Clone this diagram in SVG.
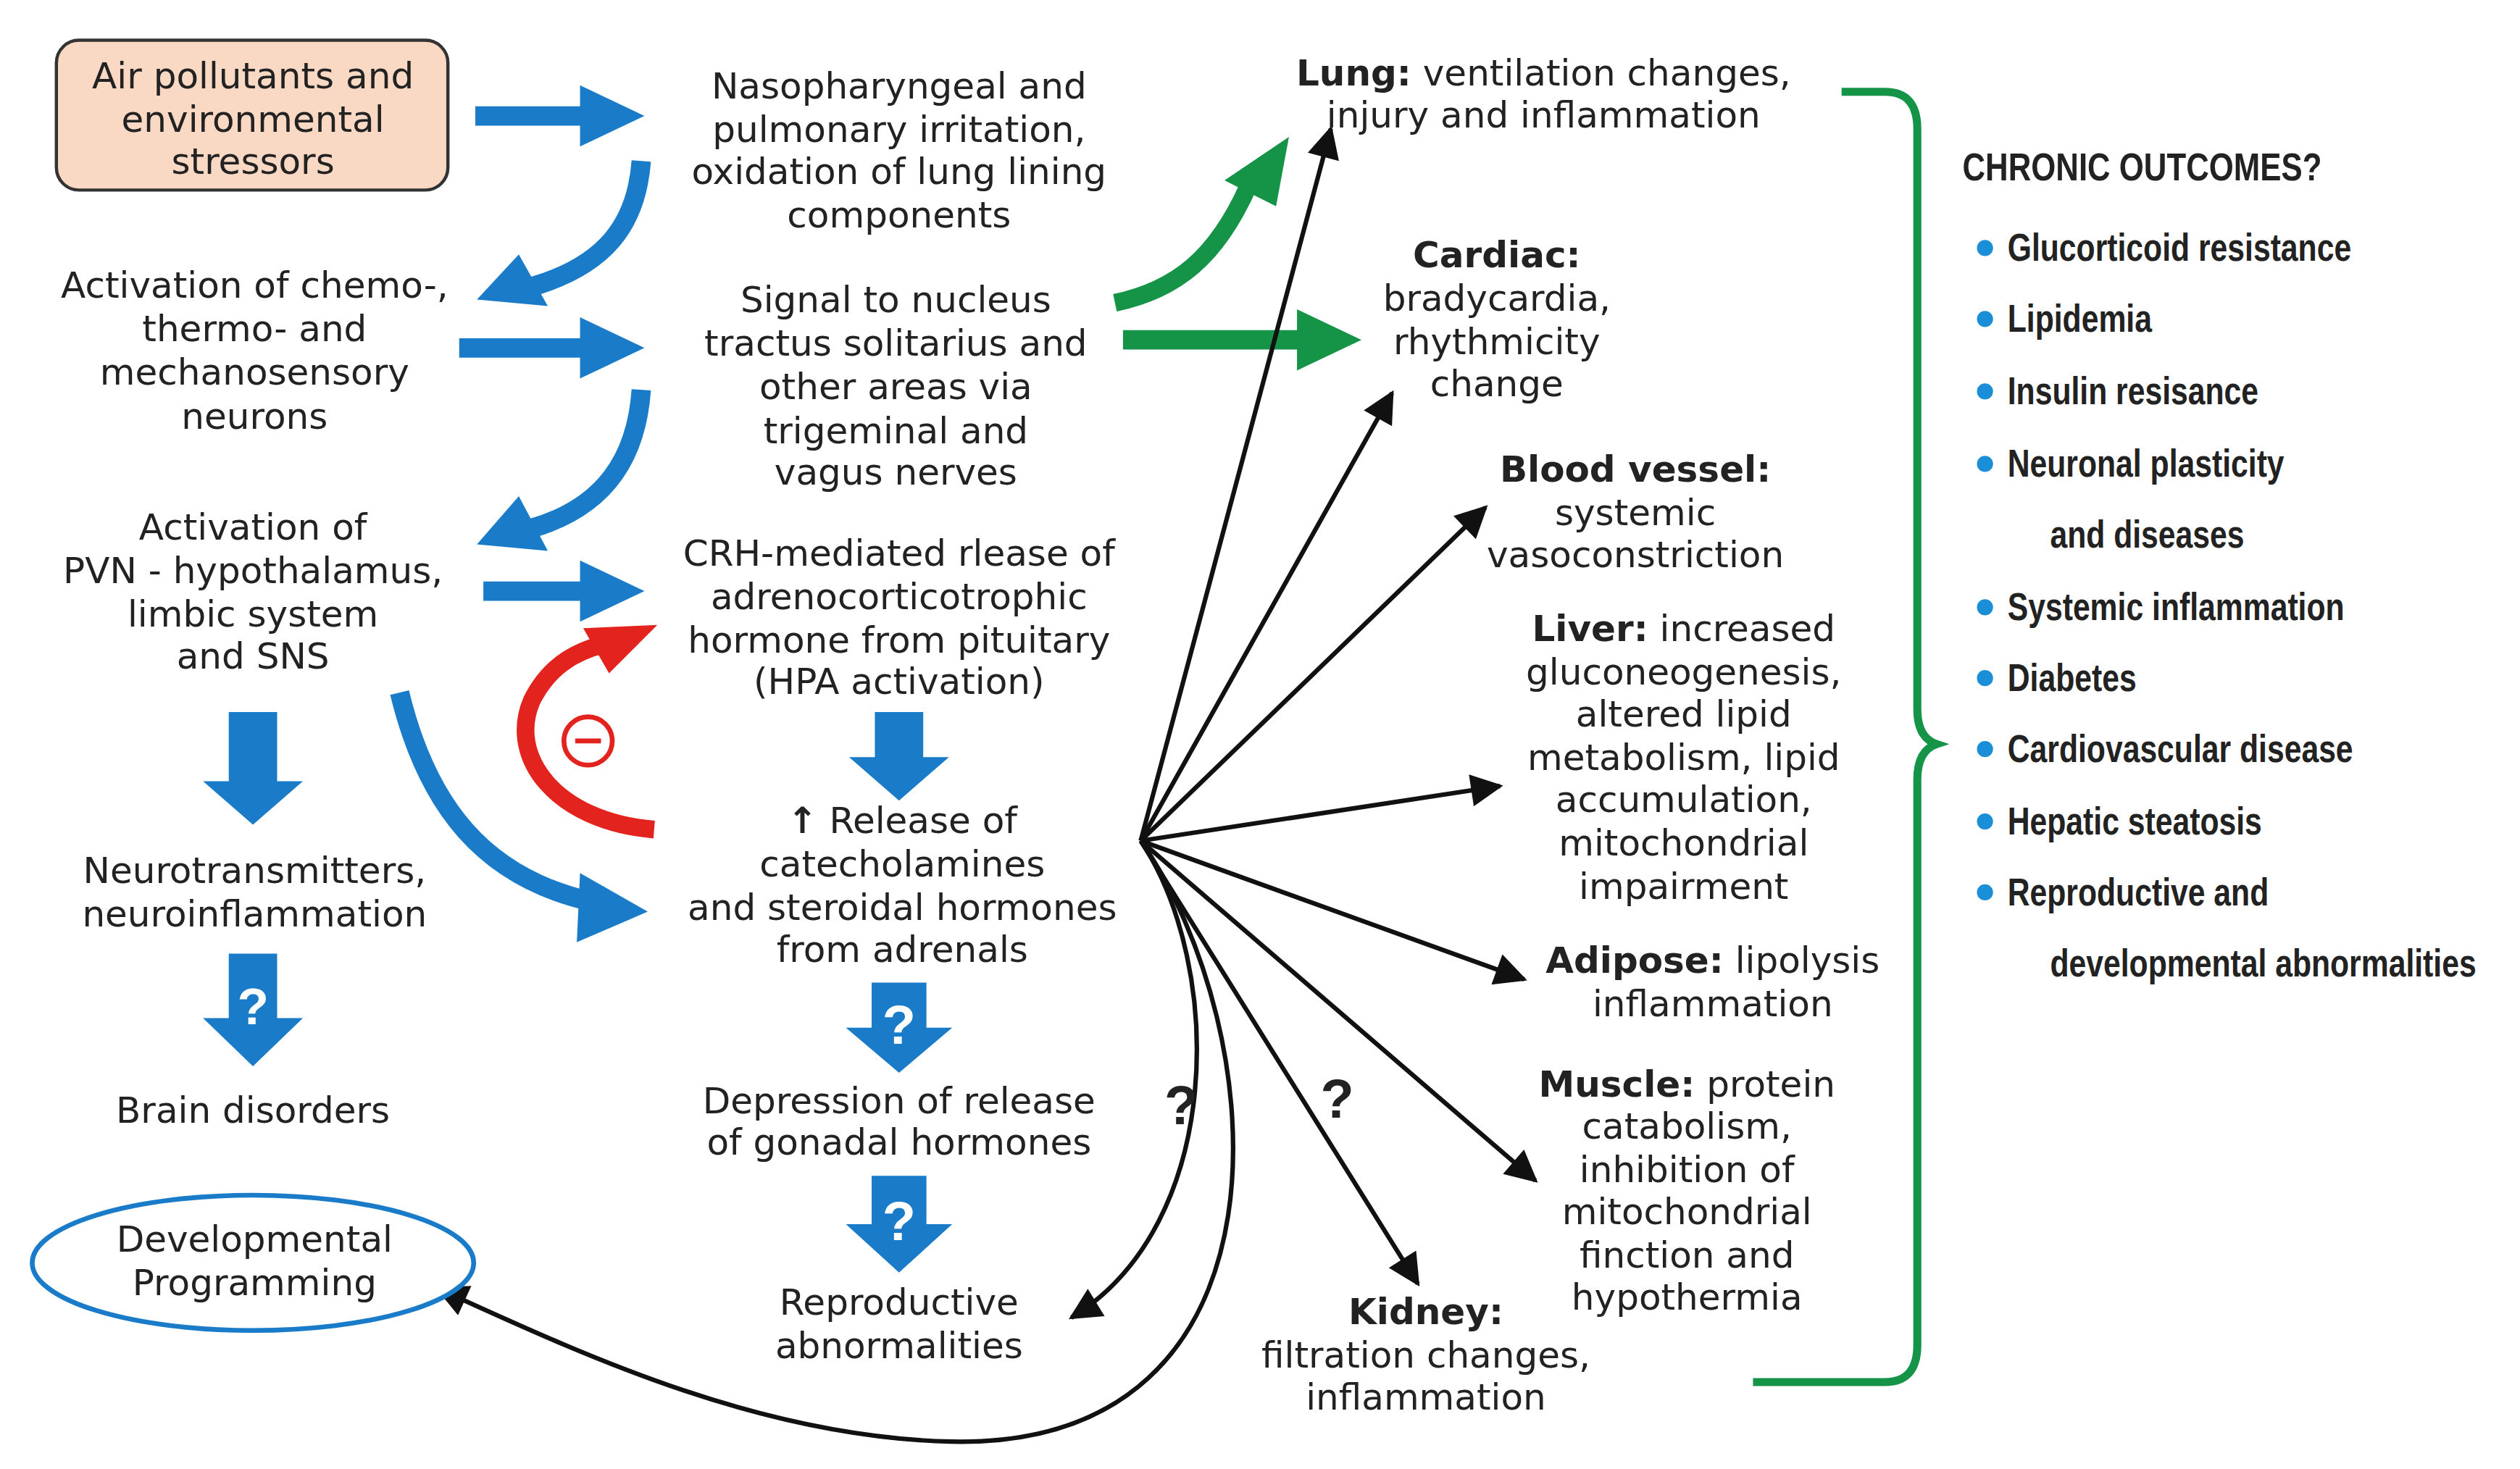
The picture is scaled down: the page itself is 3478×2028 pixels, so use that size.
<svg xmlns="http://www.w3.org/2000/svg" width="3478" height="2028" viewBox="0 0 3478 2028">
<style>
.t{font-family:"DejaVu Sans","Liberation Sans",sans-serif;font-size:22.5px;fill:#222;text-anchor:middle}
.b{font-weight:bold}
.r{font-family:"Liberation Sans Narrow","Liberation Sans",sans-serif;font-weight:bold;font-size:24px;fill:#222}
.blue{fill:#1a7cc9}
.bs{fill:none;stroke:#1a7cc9;stroke-width:12}
.k{fill:none;stroke:#111;stroke-width:2.8;marker-end:url(#ah)}
.q{font-family:"Liberation Sans",sans-serif;font-weight:bold;font-size:34px;fill:#222;text-anchor:middle}
</style>
<defs>
<marker id="ah" viewBox="0 0 10 10" refX="9" refY="5" markerWidth="24" markerHeight="20" markerUnits="userSpaceOnUse" orient="auto"><path d="M0,0 L10,5 L0,10 Z" fill="#111"/></marker>
</defs>
<rect width="3478" height="2028" fill="#fff"/>
<g transform="scale(2.2237)">
<g id="connectors">
 <path class="blue" d="M295,66 H360 V53 L400,72 L360,91 V78 H295 Z"/>
 <path class="blue" d="M285,210 H360 V197 L400,216 L360,235 V222 H285 Z"/>
 <path class="blue" d="M300,361 H360 V348 L400,367 L360,386 V373 H300 Z"/>
 <path class="bs" d="M398,100 C395,140 375,165 330,178"/>
 <path class="blue" d="M296,186 L322,158 L340,190 Z"/>
 <path class="bs" d="M398,242 C395,285 375,315 330,328"/>
 <path class="blue" d="M296,338 L322,308 L340,342 Z"/>
 <path class="bs" d="M248,430 C265,500 300,545 368,560"/>
 <path class="blue" d="M402,566 L360,542 L358,585 Z"/>
 <path class="blue" d="M142,442 H172 V485 H188 L157,512 L126,485 H142 Z"/>
 <path class="blue" d="M142,592 H172 V632 H188 L157,662 L126,632 H142 Z"/>
 <path class="blue" d="M543,442 H573 V470 H589 L558,497 L527,470 H543 Z"/>
 <path class="blue" d="M541,610 H575 V638 H591 L558,666 L525,638 H541 Z"/>
 <path class="blue" d="M541,730 H575 V760 H591 L558,790 L525,760 H541 Z"/>
 <text x="157" y="636" style="font-family:'Liberation Sans',sans-serif;font-weight:bold;font-size:32px;fill:#fff;text-anchor:middle">?</text>
 <text x="558" y="648" style="font-family:'Liberation Sans',sans-serif;font-weight:bold;font-size:34px;fill:#fff;text-anchor:middle">?</text>
 <text x="558" y="770" style="font-family:'Liberation Sans',sans-serif;font-weight:bold;font-size:34px;fill:#fff;text-anchor:middle">?</text>
 <path d="M406,515 C345,510 315,470 330,435 C340,415 355,405 375,400" fill="none" stroke="#e3231e" stroke-width="11"/>
 <path d="M408,388 L362,390 L378,418 Z" fill="#e3231e"/>
 <circle cx="365" cy="460" r="15" fill="#fff" stroke="#e3231e" stroke-width="3"/>
 <line x1="357" y1="460" x2="373" y2="460" stroke="#e3231e" stroke-width="3"/>
 <path d="M692,188 C730,180 755,160 775,115" fill="none" stroke="#159447" stroke-width="11"/>
 <path d="M800,85 L760,112 L792,128 Z" fill="#159447"/>
 <path d="M697,205 H805 V192 L845,211 L805,230 V217 H697 Z" fill="#159447"/>
 <path class="k" d="M708,522 L826,80"/>
 <path class="k" d="M708,522 L864,244"/>
 <path class="k" d="M708,522 L922,315"/>
 <path class="k" d="M708,522 L931,488"/>
 <path class="k" d="M708,522 L946,608"/>
 <path class="k" d="M708,522 L953,733"/>
 <path class="k" d="M708,522 L880,797"/>
 <path class="k" d="M708,522 C760,600 760,760 665,818"/>
 <path class="k" d="M708,522 C790,640 810,900 590,895 C470,892 360,840 272,800"/>
 <text class="q" x="733" y="698">?</text>
 <text class="q" x="830" y="694">?</text>
 <path d="M1143,57 H1170 Q1190,57 1190,80 V440 Q1190,458 1202,462 Q1190,466 1190,484 V835 Q1190,858 1170,858 H1088" fill="none" stroke="#159447" stroke-width="5"/>
</g>
<g id="n-air"><rect x="35" y="25" width="243" height="93" rx="14" fill="#f9d8c4" stroke="#333" stroke-width="2"/>
 <text class="t" x="157" y="55">Air pollutants and</text><text class="t" x="157" y="82">environmental</text><text class="t" x="157" y="108">stressors</text></g>
<g id="n-chemo"><text class="t" x="158" y="185">Activation of chemo-,</text><text class="t" x="158" y="212">thermo- and</text><text class="t" x="158" y="239">mechanosensory</text><text class="t" x="158" y="266">neurons</text></g>
<g id="n-pvn"><text class="t" x="157" y="335">Activation of</text><text class="t" x="157" y="362">PVN - hypothalamus,</text><text class="t" x="157" y="389">limbic system</text><text class="t" x="157" y="415">and SNS</text></g>
<g id="n-neuro"><text class="t" x="158" y="548">Neurotransmitters,</text><text class="t" x="158" y="575">neuroinflammation</text></g>
<g id="n-brain"><text class="t" x="157" y="697">Brain disorders</text></g>
<g id="n-dev"><ellipse cx="157" cy="784" rx="137" ry="42" fill="#fff" stroke="#1a7cc9" stroke-width="3"/>
 <text class="t" x="158" y="777">Developmental</text><text class="t" x="158" y="804">Programming</text></g>
<g id="n-naso"><text class="t" x="558" y="61">Nasopharyngeal and</text><text class="t" x="558" y="88">pulmonary irritation,</text><text class="t" x="558" y="114">oxidation of lung lining</text><text class="t" x="558" y="141">components</text></g>
<g id="n-signal"><text class="t" x="556" y="194">Signal to nucleus</text><text class="t" x="556" y="221">tractus solitarius and</text><text class="t" x="556" y="248">other areas via</text><text class="t" x="556" y="275">trigeminal and</text><text class="t" x="556" y="301">vagus nerves</text></g>
<g id="n-crh"><text class="t" x="558" y="351">CRH-mediated rlease of</text><text class="t" x="558" y="378">adrenocorticotrophic</text><text class="t" x="558" y="405">hormone from pituitary</text><text class="t" x="558" y="431">(HPA activation)</text></g>
<g id="n-release"><text class="t" x="560" y="517"><tspan class="b">↑</tspan> Release of</text><text class="t" x="560" y="544">catecholamines</text><text class="t" x="560" y="571">and steroidal hormones</text><text class="t" x="560" y="597">from adrenals</text></g>
<g id="n-gonad"><text class="t" x="558" y="691">Depression of release</text><text class="t" x="558" y="717">of gonadal hormones</text></g>
<g id="n-repro"><text class="t" x="558" y="816">Reproductive</text><text class="t" x="558" y="843">abnormalities</text></g>
<g id="n-lung"><text class="t" x="958" y="53"><tspan class="b">Lung:</tspan> ventilation changes,</text><text class="t" x="958" y="79">injury and inflammation</text></g>
<g id="n-cardiac"><text class="t b" x="929" y="166">Cardiac:</text><text class="t" x="929" y="193">bradycardia,</text><text class="t" x="929" y="220">rhythmicity</text><text class="t" x="929" y="246">change</text></g>
<g id="n-vessel"><text class="t b" x="1015" y="299">Blood vessel:</text><text class="t" x="1015" y="326">systemic</text><text class="t" x="1015" y="352">vasoconstriction</text></g>
<g id="n-liver"><text class="t" x="1045" y="398"><tspan class="b">Liver:</tspan> increased</text><text class="t" x="1045" y="425">gluconeogenesis,</text><text class="t" x="1045" y="451">altered lipid</text><text class="t" x="1045" y="478">metabolism, lipid</text><text class="t" x="1045" y="504">accumulation,</text><text class="t" x="1045" y="531">mitochondrial</text><text class="t" x="1045" y="558">impairment</text></g>
<g id="n-adipose"><text class="t" x="1063" y="604"><tspan class="b">Adipose:</tspan> lipolysis</text><text class="t" x="1063" y="631">inflammation</text></g>
<g id="n-muscle"><text class="t" x="1047" y="681"><tspan class="b">Muscle:</tspan> protein</text><text class="t" x="1047" y="707">catabolism,</text><text class="t" x="1047" y="734">inhibition of</text><text class="t" x="1047" y="760">mitochondrial</text><text class="t" x="1047" y="787">finction and</text><text class="t" x="1047" y="813">hypothermia</text></g>
<g id="n-kidney"><text class="t b" x="885" y="822">Kidney:</text><text class="t" x="885" y="849">filtration changes,</text><text class="t" x="885" y="875">inflammation</text></g>
<g id="n-chronic">
 <g fill="#1a8fd8"><circle cx="1232" cy="154" r="5"/><circle cx="1232" cy="198" r="5"/><circle cx="1232" cy="243" r="5"/><circle cx="1232" cy="288" r="5"/><circle cx="1232" cy="377" r="5"/><circle cx="1232" cy="421" r="5"/><circle cx="1232" cy="465" r="5"/><circle cx="1232" cy="510" r="5"/><circle cx="1232" cy="554" r="5"/></g>
 <g transform="translate(1218,0) scale(0.82,1) translate(-1218,0)">
 <text class="r" x="1218" y="112">CHRONIC OUTCOMES?</text>
 </g>
 <g transform="translate(1246,0) scale(0.8,1) translate(-1246,0)">
 <text class="r" x="1246" y="162">Glucorticoid resistance</text>
 <text class="r" x="1246" y="206">Lipidemia</text>
 <text class="r" x="1246" y="251">Insulin resisance</text>
 <text class="r" x="1246" y="296">Neuronal plasticity</text>
 <text class="r" x="1279" y="340">and diseases</text>
 <text class="r" x="1246" y="385">Systemic inflammation</text>
 <text class="r" x="1246" y="429">Diabetes</text>
 <text class="r" x="1246" y="473">Cardiovascular disease</text>
 <text class="r" x="1246" y="518">Hepatic steatosis</text>
 <text class="r" x="1246" y="562">Reproductive and</text>
 <text class="r" x="1279" y="606">developmental abnormalities</text>
 </g>
</g>
</g>
</svg>
